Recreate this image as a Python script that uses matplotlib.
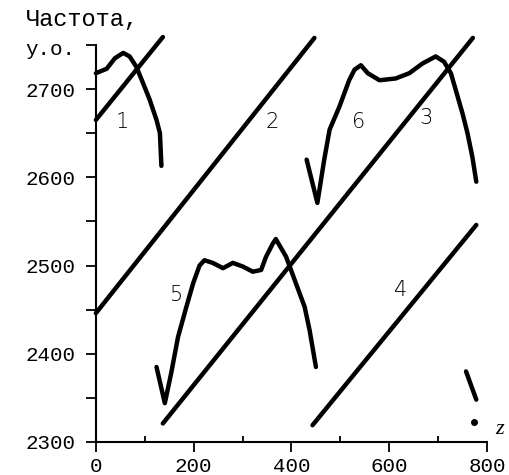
import numpy as np
import matplotlib
matplotlib.use("Agg")
import matplotlib.pyplot as plt

# === Straight mode lines (z, frequency) ===
line1_z = [0, 137]
line1_f = [2665, 2759]
line2_z = [0, 447]
line2_f = [2446, 2758]
line3_z = [137, 771]
line3_f = [2321, 2758]
line4_z = [443, 778]
line4_f = [2319, 2546]

# === Humped curves ===
hump1_z = [0, 22, 39, 56, 69, 83, 97, 110, 124, 131, 134]
hump1_f = [2718, 2723, 2735, 2741, 2737, 2725, 2706, 2688, 2665, 2650, 2613]

hump5_z = [124, 141, 154, 168, 185, 199, 212, 222, 239, 260, 280, 300, 321, 338,
           348, 362, 368, 389, 409, 427, 437, 450]
hump5_f = [2385, 2344, 2378, 2419, 2453, 2480, 2500, 2506, 2503, 2497, 2503, 2499,
           2493, 2495, 2510, 2525, 2530, 2510, 2480, 2453, 2427, 2385]

hump6_z = [431, 453, 467, 478, 498, 518, 529, 542, 556, 580, 613, 641, 668, 695,
           712, 726, 736, 750, 760, 770, 778]
hump6_f = [2620, 2571, 2620, 2654, 2680, 2710, 2722, 2727, 2718, 2710, 2712, 2718,
           2729, 2737, 2731, 2718, 2699, 2672, 2650, 2623, 2595]

tail7_z = [757, 778]
tail7_f = [2380, 2348]
dot7_z = [773]
dot7_f = [2323]

labels = ["1", "2", "3", "4", "5", "6"]
label_z = [55, 361, 675, 624, 165, 537]
label_f = [2663, 2663, 2667, 2472, 2467, 2663]

fig = plt.figure(figsize=(5.1, 4.75), dpi=100)
ax = fig.add_axes([0.188, 0.0695, 0.767, 0.873])

for z, f in [(line1_z, line1_f), (line2_z, line2_f), (line3_z, line3_f),
             (line4_z, line4_f), (hump1_z, hump1_f), (hump5_z, hump5_f),
             (hump6_z, hump6_f), (tail7_z, tail7_f)]:
    ax.plot(z, f, color="black", lw=3.2, solid_capstyle="round", clip_on=False)
ax.plot(dot7_z, dot7_f, "o", color="black", ms=4, clip_on=False)

font = "Liberation Mono"
for t, z, f in zip(labels, label_z, label_f):
    ax.text(z, f, t, fontsize=15, family="DejaVu Sans", weight="light",
            ha="center", va="center")

ax.set_xlim(0, 800)
ax.set_ylim(2300, 2770)
ax.spines["top"].set_visible(False)
ax.spines["right"].set_visible(False)
ax.spines["left"].set_bounds(2300, 2750)
ax.spines["left"].set_linewidth(1.5)
ax.spines["bottom"].set_linewidth(1.5)

ax.set_xticks([0, 200, 400, 600, 800])
ax.set_xticks([100, 300, 500, 700], minor=True)
ax.set_yticks([2300, 2400, 2500, 2600, 2700])
ax.set_yticks([2350, 2450, 2550, 2650, 2750], minor=True)
ax.tick_params(axis="both", which="major", length=7, width=1.3, labelsize=15, direction="out")
ax.tick_params(axis="y", which="major", pad=8)
ax.tick_params(axis="x", which="minor", length=4, width=1.3, direction="in")
ax.tick_params(axis="y", which="minor", length=7, width=1.3, direction="out")
for lab in ax.get_xticklabels() + ax.get_yticklabels():
    lab.set_family(font)

fig.text(0.05, 0.958, "Частота,", fontsize=17, family="Liberation Mono", ha="left", va="center")
fig.text(0.05, 0.895, "у.о.", fontsize=15, family="Liberation Mono", ha="left", va="center")
fig.text(0.98, 0.095, "z", fontsize=16, family="Liberation Serif", style="italic",
         ha="center", va="center")

fig.savefig("out.png", dpi=100)
